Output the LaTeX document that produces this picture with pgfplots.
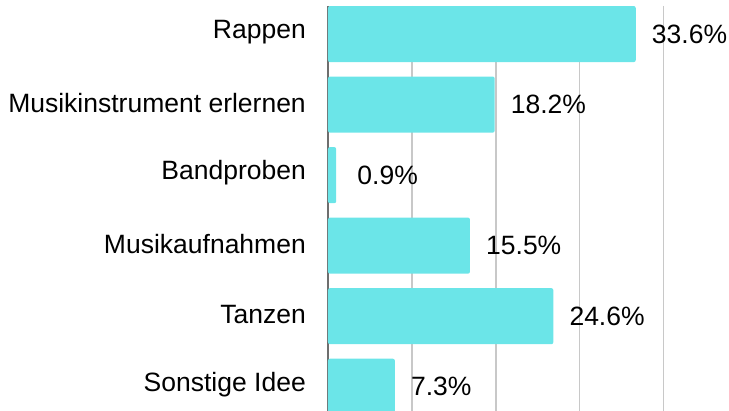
\documentclass[border=0pt]{standalone}
\usepackage{pgfplots}
\pgfplotsset{compat=1.18}
\usepackage{fontspec}
\setmainfont{Liberation Sans}
\definecolor{barcyan}{RGB}{107,229,232}
\definecolor{gridgray}{RGB}{200,200,200}
\definecolor{axisgray}{RGB}{110,110,110}
\begin{document}
\begin{tikzpicture}
\useasboundingbox (0,0) rectangle (729pt,411pt);
\clip (0,0) rectangle (729pt,411pt);
\begin{axis}[
  at={(328pt,405pt)}, anchor=north west,
  scale only axis,
  width=401pt, height=416pt,
  xbar, bar width=0.795,
  xmin=0, xmax=43.78,
  ymin=-0.398, ymax=5.5,
  y dir=reverse,
  axis line style={draw=none},
  tick style={draw=none},
  major tick length=0pt,
  xtick={9.1667,18.3333,27.5,36.6667},
  xticklabels={},
  xmajorgrids,
  grid style={gridgray, line width=1.2pt},
  extra x ticks={0},
  extra x tick labels={},
  extra x tick style={grid style={axisgray, line width=1.5pt}},
  ytick={0,1,2,3,4,5},
  yticklabels={Rappen,Musikinstrument erlernen,Bandproben,Musikaufnahmen,Tanzen,Sonstige Idee},
  yticklabel style={font=\fontsize{26.5}{30}\selectfont, anchor=east, inner sep=0pt, xshift=-22pt, yshift=2pt},
  visualization depends on={x \as \rawx},
  nodes near coords={\pgfmathprintnumber[fixed,fixed zerofill,precision=1,assume math mode=true]{\pgfplotspointmeta}\%},
  nodes near coords style={font=\fontsize{26.5}{30}\selectfont, anchor=west, inner sep=0pt, xshift={16pt+5pt*(\rawx<2)}, text=black},
  clip=false,
]
\addplot[fill=barcyan, draw=none, rounded corners=2pt] coordinates {
  (33.6,0) (18.2,1) (0.9,2) (15.5,3) (24.6,4) (7.3,5)
};
\end{axis}
\end{tikzpicture}
\end{document}
